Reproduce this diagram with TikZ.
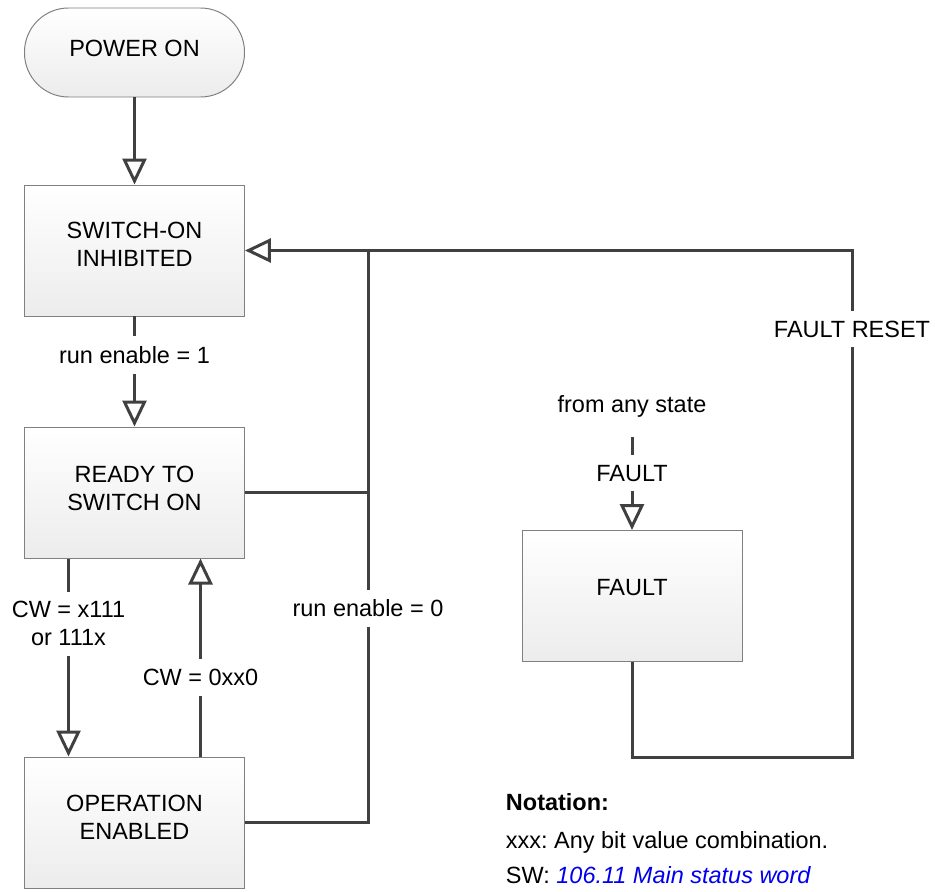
\documentclass[tikz,border=0pt]{standalone}
\usepackage{fontspec}
\setmainfont{Liberation Sans}
\usepackage{tikz}
\usetikzlibrary{arrows.meta,positioning,calc}
\definecolor{linegray}{RGB}{64,64,64}
\definecolor{framegray}{RGB}{128,128,128}
\definecolor{shadegray}{RGB}{236,236,236}
\definecolor{linkblue}{RGB}{0,0,238}
\frenchspacing

\begin{document}
\begin{tikzpicture}[
state/.style={draw=framegray,line width=0.7pt,top color=white,bottom color=shadegray,
  minimum width=5.5cm,minimum height=3.275cm,align=center,inner sep=0pt},
conn/.style={draw=linegray,line width=0.075cm},
arr/.style={-{Triangle[open,length=0.65cm,width=0.6cm]}},
lbl/.style={fill=white,inner xsep=2pt,inner ysep=0.25cm,align=center},
font=\fontsize{16.7}{19.9}\selectfont]
\useasboundingbox (0,0) rectangle (23.375,-22.275);
% Stati
\node[state,rounded corners=1.1cm,minimum height=2.225cm] (power) at (3.3625,-1.3125) {POWER ON\rule[-0.22cm]{0pt}{0pt}};
\node[state] (inhibited) at (3.3625,-6.2625) {SWITCH-ON\\INHIBITED\rule[-0.3cm]{0pt}{0pt}};
\node[state] (ready) at (3.3625,-12.3125) {READY TO\\SWITCH ON\rule[-0.2cm]{0pt}{0pt}};
\node[state] (operation) at (3.3625,-20.5625) {OPERATION\\ENABLED\rule[-0.25cm]{0pt}{0pt}};
\node[state] (fault) at (15.8,-14.9) {FAULT\rule[-0.45cm]{0pt}{0pt}};
% Transizioni
\draw[conn,arr] (power) -- (inhibited);
\draw[conn,arr] (inhibited) -- node[lbl,pos=0.35] {run enable = 1} (ready);
\draw[conn,arr] ([xshift=-1.65cm]ready.south) -- node[lbl,pos=0.33] {CW = x111\\or 111x} ([xshift=-1.65cm]operation.north);
\draw[conn,arr] ([xshift=1.65cm]operation.north) -- node[lbl,pos=0.4] {CW = 0xx0} ([xshift=1.65cm]ready.south);
% Ritorno a switch-on inhibited
\coordinate (jt) at (9.2,-6.2625);
\draw[conn] (operation.east) -| node[lbl,pos=0.687] {run enable = 0} (jt);
\draw[conn] (ready.east) -- (ready.east -| jt);
\draw[conn,arr] (jt) -- (inhibited.east);
% Fault
\node (anystate) at (15.8,-10.15) {from any state};
\coordinate (fs) at (15.8,-10.925);
\draw[conn,arr] (fs) -- node[lbl,pos=0.39] {FAULT} (fault);
\coordinate (rb) at (21.3,-18.925);
\coordinate (rt) at (21.3,-6.2625);
\draw[conn] (fault.south) |- (rb) -- node[lbl,pos=0.845] {FAULT RESET} (rt) -- (jt);
% Notazione
\node[anchor=base west] (note1) at (12.525,-20.26) {\bfseries Notation:};
\node[anchor=base west] (note2) at (12.525,-21.21) {xxx: Any bit value combination.};
\node[anchor=base west] (note3) at (12.525,-22.09) {SW: \textcolor{linkblue}{\itshape 106.11 Main status word}};
\end{tikzpicture}
\end{document}
